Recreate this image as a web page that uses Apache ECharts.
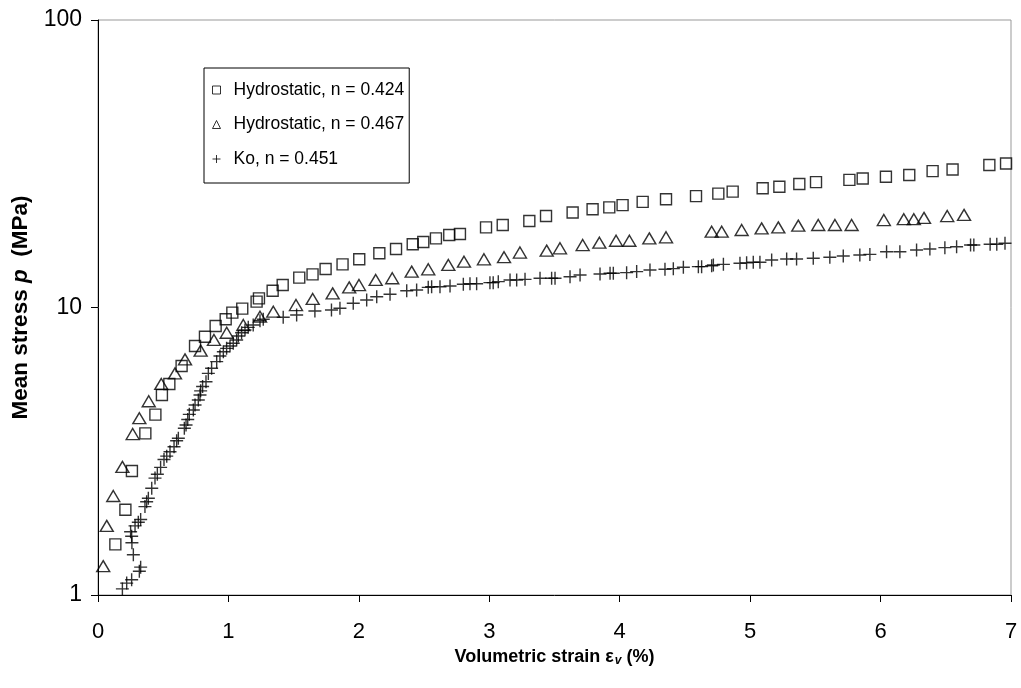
<!DOCTYPE html>
<html>
<head>
<meta charset="utf-8">
<script src="https://cdn.jsdelivr.net/npm/echarts@6/dist/echarts.min.js"></script>
<style>
html,body{margin:0;padding:0;background:#fff;}
#chart{width:1021px;height:688px;}
</style>
</head>
<body>
<div id="chart"></div>
<script>
// Hydrostatic, n = 0.424 (squares): [strain %, mean stress MPa]
const hydro424 = [
  [0.133,1.50],[0.21,1.98],[0.26,2.70],[0.363,3.65],[0.44,4.24],[0.49,4.96],[0.547,5.42],
  [0.641,6.26],[0.744,7.35],[0.82,7.91],[0.902,8.62],[0.979,9.10],[1.03,9.60],[1.106,9.91],
  [1.216,10.48],[1.234,10.76],[1.339,11.44],[1.416,11.97],[1.543,12.70],[1.645,13.04],
  [1.745,13.61],[1.875,14.13],[2.003,14.71],[2.157,15.44],[2.285,15.97],[2.413,16.60],
  [2.494,16.9],[2.591,17.4],[2.693,17.87],[2.775,18.02],[2.975,19.0],[3.103,19.37],
  [3.307,20.0],[3.435,20.8],[3.639,21.4],[3.792,21.97],[3.92,22.3],[4.022,22.7],
  [4.176,23.3],[4.355,23.8],[4.585,24.4],[4.756,24.9],[4.866,25.3],[5.096,26.0],
  [5.224,26.3],[5.377,26.9],[5.505,27.3],[5.761,27.8],[5.863,28.1],[6.041,28.5],
  [6.22,28.9],[6.399,29.8],[6.552,30.2],[6.834,31.3],[6.962,31.7]
];
// Hydrostatic, n = 0.467 (triangles)
const hydro467 = [
  [0.04,1.26],[0.067,1.74],[0.117,2.21],[0.187,2.79],[0.266,3.63],[0.317,4.12],[0.389,4.72],
  [0.485,5.42],[0.59,5.9],[0.667,6.6],[0.787,7.08],[0.889,7.71],[0.987,8.17],[1.114,8.69],
  [1.242,9.29],[1.344,9.67],[1.518,10.2],[1.646,10.71],[1.799,11.2],[1.926,11.75],
  [2.001,11.97],[2.129,12.47],[2.256,12.64],[2.405,13.33],[2.532,13.58],[2.686,14.06],
  [2.806,14.43],[2.959,14.71],[3.113,14.96],[3.235,15.53],[3.44,15.77],[3.542,16.07],
  [3.716,16.49],[3.844,16.8],[3.972,17.07],[4.074,17.07],[4.227,17.4],[4.355,17.55],
  [4.705,18.35],[4.782,18.35],[4.935,18.6],[5.088,18.85],[5.216,19.0],[5.369,19.26],
  [5.522,19.36],[5.65,19.36],[5.778,19.36],[6.025,20.15],[6.178,20.28],[6.255,20.28],
  [6.333,20.5],[6.511,20.8],[6.64,21.0]
];
// Ko, n = 0.451 (crosses)
const ko451 = [
  [0.187,1.05],[0.22,1.10],[0.258,1.13],[0.317,1.21],[0.327,1.25],[0.271,1.38],[0.26,1.52],
  [0.258,1.60],[0.25,1.66],[0.284,1.74],[0.309,1.79],[0.327,1.83],[0.36,2.03],[0.373,2.11],
  [0.386,2.17],[0.412,2.35],[0.437,2.55],[0.455,2.63],[0.48,2.78],[0.506,2.96],[0.527,3.04],
  [0.552,3.15],[0.583,3.28],[0.603,3.44],[0.616,3.51],[0.662,3.80],[0.675,3.90],[0.688,4.08],
  [0.70,4.25],[0.731,4.40],[0.744,4.58],[0.769,4.77],[0.782,4.96],[0.787,5.13],[0.802,5.31],
  [0.828,5.52],[0.846,5.9],[0.871,6.15],[0.91,6.48],[0.935,6.78],[0.961,7.02],[0.986,7.21],
  [1.012,7.35],[1.037,7.51],[1.063,7.71],[1.076,7.96],[1.101,8.17],[1.127,8.35],[1.152,8.53],
  [1.19,8.69],[1.242,8.99],[1.267,9.1],[1.42,9.25],[1.523,9.42],[1.663,9.72],[1.79,9.80],
  [1.855,9.94],[1.957,10.35],[2.06,10.62],[2.137,10.9],[2.239,11.12],[2.367,11.44],[2.443,11.5],
  [2.532,11.75],[2.558,11.81],[2.622,11.81],[2.699,11.88],[2.801,12.05],[2.852,12.1],[2.903,12.1],
  [3.005,12.2],[3.03,12.2],[3.069,12.3],[3.159,12.47],[3.21,12.47],[3.274,12.53],[3.389,12.64],
  [3.478,12.64],[3.504,12.64],[3.619,12.8],[3.696,12.97],[3.849,13.08],[3.926,13.15],[3.951,13.15],
  [4.053,13.22],[4.13,13.33],[4.232,13.5],[4.347,13.58],[4.411,13.65],[4.488,13.8],[4.603,13.87],
  [4.628,13.87],[4.705,13.97],[4.718,14.06],[4.795,14.13],[4.922,14.25],[4.973,14.3],[5.024,14.36],
  [5.075,14.36],[5.165,14.63],[5.28,14.75],[5.356,14.75],[5.484,14.83],[5.611,14.96],[5.714,15.1],
  [5.841,15.23],[5.918,15.3],[6.046,15.63],[6.148,15.63],[6.276,15.85],[6.378,15.97],[6.493,16.15],
  [6.583,16.27],[6.69,16.49],[6.715,16.49],[6.84,16.6],[6.891,16.6],[6.954,16.73]
];
const seriesNames = ['Hydrostatic, n = 0.424', 'Hydrostatic, n = 0.467', 'Ko, n = 0.451'];
const xTitle = 'Volumetric strain';
const yTitle = 'Mean stress';

const FONT = '"Liberation Sans", Arial, sans-serif';
const CROSS = 'path://M0,5L10,5M5,0L5,10';
const hollow = {color: 'rgba(0,0,0,0)', borderColor: '#000', borderWidth: 1.4};

const chart = echarts.init(document.getElementById('chart'), null, {renderer: 'canvas'});
chart.setOption({
  animation: false,
  backgroundColor: '#fff',
  grid: {left: 98, right: 10, top: 20, bottom: 93, show: true, borderColor: '#999', borderWidth: 1, backgroundColor: 'transparent'},
  legend: {
    orient: 'vertical', left: 204, top: 68,
    padding: [10, 5, 12, 8], itemGap: 10.5,
    itemWidth: 8, itemHeight: 8,
    backgroundColor: '#fff', borderColor: '#000', borderWidth: 1, borderRadius: 0,
    textStyle: {fontFamily: FONT, fontSize: 17.5, color: '#000', lineHeight: 24, padding: [0, 0, 0, 8]},
    data: [
      {name: seriesNames[0], icon: 'rect', itemStyle: {color: 'rgba(0,0,0,0)', borderColor: '#000', borderWidth: 1}},
      {name: seriesNames[1], icon: 'triangle', itemStyle: {color: 'rgba(0,0,0,0)', borderColor: '#000', borderWidth: 1}},
      {name: seriesNames[2], icon: CROSS, itemStyle: {color: 'rgba(0,0,0,0)', borderColor: '#000', borderWidth: 1}}
    ]
  },
  xAxis: {
    type: 'value', min: 0, max: 7, interval: 1,
    axisLine: {show: true, onZero: false, lineStyle: {color: '#000', width: 1}},
    axisTick: {show: true, inside: false, length: 7, lineStyle: {color: '#000'}},
    splitLine: {show: false},
    axisLabel: {fontFamily: FONT, fontSize: 22, color: '#000', margin: 26},
    name: '{b|' + xTitle + ' ε}{s|v}{b| (%)}',
    nameLocation: 'middle', nameGap: 43,
    nameTextStyle: {
      rich: {
        b: {fontFamily: FONT, fontSize: 18, fontWeight: 'bold', color: '#000'},
        s: {fontFamily: FONT, fontSize: 12, fontWeight: 'bold', fontStyle: 'italic', color: '#000', padding: [8, 0, 0, 1]}
      }
    }
  },
  yAxis: {
    type: 'log', logBase: 10, min: 1, max: 100,
    axisLine: {show: true, lineStyle: {color: '#000', width: 1}},
    axisTick: {show: true, inside: false, length: 7, lineStyle: {color: '#000'}},
    minorTick: {show: false},
    splitLine: {show: false},
    axisLabel: {fontFamily: FONT, fontSize: 23, color: '#000', margin: 16},
    name: '{b|' + yTitle + ' }{i|p}{b|  (MPa)}',
    nameLocation: 'middle', nameGap: 57, nameRotate: 90,
    nameTextStyle: {
      rich: {
        b: {fontFamily: FONT, fontSize: 22.5, fontWeight: 'bold', color: '#000'},
        i: {fontFamily: FONT, fontSize: 22.5, fontWeight: 'bold', fontStyle: 'italic', color: '#000'}
      }
    }
  },
  series: [
    {name: seriesNames[0], type: 'scatter', data: hydro424, symbol: 'rect', symbolSize: 11, itemStyle: hollow},
    {name: seriesNames[1], type: 'scatter', data: hydro467, symbol: 'triangle', symbolSize: [13, 11], itemStyle: hollow},
    {name: seriesNames[2], type: 'scatter', data: ko451, symbol: CROSS, symbolSize: 13, itemStyle: {color: 'rgba(0,0,0,0)', borderColor: '#000', borderWidth: 1.4}}
  ]
});
</script>
</body>
</html>
